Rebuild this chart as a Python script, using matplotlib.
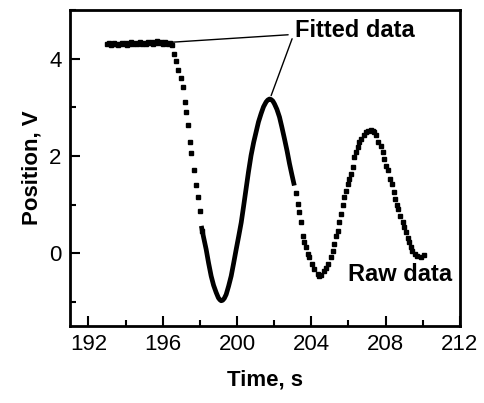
import matplotlib.pyplot as plt
from matplotlib.ticker import MultipleLocator

plt.rcParams['font.family'] = ['Liberation Sans', 'DejaVu Sans']

# Raw data (dots)
raw_t = [193.0, 193.1, 193.2, 193.3, 193.4, 193.5, 193.6, 193.7, 193.8, 193.9,
         194.0, 194.1, 194.2, 194.3, 194.4, 194.5, 194.6, 194.7, 194.8, 194.9,
         195.0, 195.1, 195.2, 195.3, 195.4, 195.5, 195.6, 195.7, 195.8, 195.9,
         196.0, 196.1, 196.2, 196.3, 196.4, 196.5,
         196.61, 196.73, 196.85, 197.0, 197.09, 197.18, 197.28, 197.39, 197.48, 197.55,
         197.7, 197.81, 197.9, 198.01, 198.11,
         203.18, 203.27, 203.36, 203.45, 203.54, 203.63, 203.72, 203.81, 203.9, 204.04,
         204.17, 204.35, 204.44, 204.53, 204.7, 204.8, 204.89, 205.06, 205.16, 205.24,
         205.33, 205.42, 205.51, 205.6, 205.69, 205.78, 205.87, 205.96, 206.05, 206.14,
         206.23, 206.32, 206.41, 206.5, 206.59, 206.68, 206.82, 206.95, 207.07, 207.22,
         207.31, 207.39, 207.48, 207.61, 207.75, 207.84, 207.93, 208.02, 208.15, 208.25,
         208.33, 208.44, 208.51, 208.61, 208.68, 208.79, 208.92, 209.01, 209.1, 209.19,
         209.27, 209.37, 209.45, 209.58, 209.72, 209.9, 210.08]
raw_v = [4.30, 4.32, 4.29, 4.31, 4.33, 4.30, 4.28, 4.31, 4.33, 4.30,
         4.32, 4.29, 4.31, 4.34, 4.31, 4.33, 4.30, 4.32, 4.35, 4.31,
         4.33, 4.30, 4.34, 4.32, 4.35, 4.31, 4.33, 4.36, 4.32, 4.34,
         4.31, 4.35, 4.33, 4.30, 4.32, 4.28,
         4.10, 3.96, 3.76, 3.60, 3.42, 3.11, 2.90, 2.63, 2.28, 2.06,
         1.72, 1.40, 1.15, 0.87, 0.46,
         1.24, 1.01, 0.84, 0.63, 0.36, 0.23, 0.12, -0.02, -0.09, -0.23,
         -0.33, -0.43, -0.47, -0.45, -0.36, -0.30, -0.23, -0.09, 0.05, 0.19,
         0.36, 0.46, 0.63, 0.80, 0.98, 1.15, 1.28, 1.42, 1.52, 1.62,
         1.77, 1.97, 2.08, 2.18, 2.28, 2.35, 2.42, 2.49, 2.52, 2.54,
         2.52, 2.49, 2.42, 2.28, 2.21, 2.08, 1.94, 1.80, 1.70, 1.53,
         1.42, 1.25, 1.11, 0.98, 0.91, 0.77, 0.63, 0.53, 0.43, 0.32,
         0.22, 0.12, 0.05, -0.02, -0.06, -0.07, -0.04]

# Fitted curve (thick line)
fit_t = [198.08, 198.2, 198.34, 198.47, 198.61, 198.74, 198.88, 199.0, 199.08, 199.15,
         199.23, 199.32, 199.42, 199.55, 199.69, 199.82, 199.96, 200.1, 200.23, 200.36,
         200.49, 200.62, 200.76, 200.9, 201.03, 201.16, 201.3, 201.43, 201.57, 201.66,
         201.75, 201.84, 201.93, 202.02, 202.15, 202.29, 202.42, 202.56, 202.7, 202.83,
         202.96, 203.09]
fit_v = [0.56, 0.33, 0.08, -0.20, -0.47, -0.66, -0.81, -0.92, -0.96, -0.98,
         -0.97, -0.93, -0.85, -0.68, -0.47, -0.21, 0.08, 0.36, 0.63, 0.97,
         1.32, 1.67, 2.01, 2.28, 2.49, 2.70, 2.87, 3.01, 3.11, 3.15,
         3.17, 3.16, 3.13, 3.07, 2.96, 2.80, 2.59, 2.35, 2.10, 1.84,
         1.61, 1.39]

fig = plt.figure(figsize=(4.85, 4.03), dpi=100)
ax = fig.add_axes([0.144, 0.191, 0.804, 0.784])

ax.plot(raw_t, raw_v, 's', color='black', markersize=2.2)
ax.plot(fit_t, fit_v, '-', color='black', linewidth=3.4, solid_capstyle='butt',
        solid_joinstyle='round')

ax.set_xlim(191.0, 212)
ax.set_ylim(-1.5, 5.0)
ax.xaxis.set_major_locator(MultipleLocator(4))
ax.xaxis.set_minor_locator(MultipleLocator(2))
ax.yaxis.set_major_locator(MultipleLocator(2))
ax.yaxis.set_minor_locator(MultipleLocator(1))
ax.tick_params(which='both', direction='in', width=1.5, labelsize=16, top=False, right=False)
ax.tick_params(which='major', length=7, pad=6)
ax.tick_params(which='minor', length=4)
for s in ax.spines.values():
    s.set_linewidth(2)

ax.set_xlabel('Time, s', fontsize=16, fontweight='bold', labelpad=10)
ax.set_ylabel('Position, V', fontsize=16, fontweight='bold', labelpad=5)

# Annotations
ax.annotate('Fitted data', xy=(196.55, 4.34), xytext=(203.13, 4.58),
            fontsize=17, fontweight='bold', va='center', ha='left',
            arrowprops=dict(arrowstyle='-', color='black', lw=1, shrinkA=3, shrinkB=0))
ax.annotate('', xy=(201.84, 3.24), xytext=(202.97, 4.41),
            arrowprops=dict(arrowstyle='-', color='black', lw=1, shrinkA=0, shrinkB=0))
ax.text(206.0, -0.45, 'Raw data', fontsize=17, fontweight='bold', va='center', ha='left')

fig.savefig('out.png', dpi=100)
